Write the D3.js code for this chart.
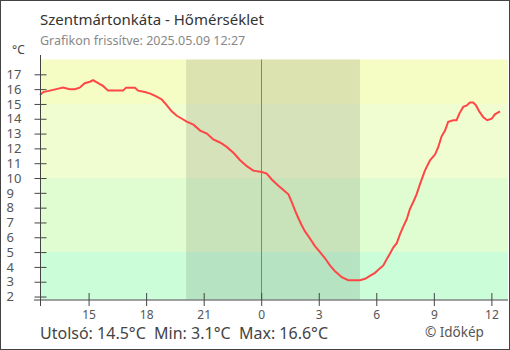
<!DOCTYPE html>
<html><head><meta charset="utf-8">
<script src="https://cdn.jsdelivr.net/npm/d3@7"></script>
<style>
html,body{margin:0;padding:0;background:#fff;}
svg{display:block;font-family:"Noto Sans",sans-serif;}
</style></head>
<body>
<script>
// ---- data ----
const times = ["05-08 12:28","05-08 12:38","05-08 12:59","05-08 13:19","05-08 13:40","05-08 14:01","05-08 14:17","05-08 14:32","05-08 14:48","05-08 15:04","05-08 15:14","05-08 15:30","05-08 15:46","05-08 16:01","05-08 16:22","05-08 16:48","05-08 16:57","05-08 17:25","05-08 17:35","05-08 17:56","05-08 18:13","05-08 18:33","05-08 18:49","05-08 19:05","05-08 19:20","05-08 19:36","05-08 19:52","05-08 20:07","05-08 20:28","05-08 20:49","05-08 21:10","05-08 21:30","05-08 21:51","05-08 22:12","05-08 22:33","05-08 22:54","05-08 23:15","05-08 23:35","05-09 00:02","05-09 00:17","05-09 00:33","05-09 00:53","05-09 01:14","05-09 01:25","05-09 01:35","05-09 01:46","05-09 01:56","05-09 02:07","05-09 02:17","05-09 02:33","05-09 02:48","05-09 03:04","05-09 03:19","05-09 03:35","05-09 03:51","05-09 04:12","05-09 04:32","05-09 05:09","05-09 05:25","05-09 05:40","05-09 05:56","05-09 06:11","05-09 06:22","05-09 06:32","05-09 06:43","05-09 06:53","05-09 07:04","05-09 07:14","05-09 07:24","05-09 07:35","05-09 07:45","05-09 07:56","05-09 08:06","05-09 08:17","05-09 08:32","05-09 08:48","05-09 09:04","05-09 09:14","05-09 09:24","05-09 09:35","05-09 09:45","05-09 10:01","05-09 10:11","05-09 10:21","05-09 10:32","05-09 10:43","05-09 10:53","05-09 11:03","05-09 11:12","05-09 11:22","05-09 11:35","05-09 11:47","05-09 12:01","05-09 12:11","05-09 12:27"];
const temps = [15.6,15.8,15.9,16.0,16.1,16.0,16.0,16.1,16.4,16.5,16.6,16.4,16.2,15.9,15.9,15.9,16.1,16.1,15.9,15.8,15.7,15.5,15.3,14.9,14.5,14.2,14.0,13.8,13.6,13.2,13.0,12.6,12.4,12.1,11.7,11.2,10.8,10.5,10.4,10.3,9.9,9.5,9.1,8.9,8.4,7.8,7.3,6.8,6.4,5.9,5.4,5.0,4.6,4.1,3.7,3.3,3.1,3.1,3.2,3.4,3.6,3.9,4.1,4.5,4.9,5.3,5.6,6.2,6.7,7.2,7.9,8.4,8.9,9.6,10.5,11.2,11.6,12.1,12.8,13.2,13.8,13.9,13.9,14.4,14.8,14.9,15.1,15.1,14.9,14.5,14.1,13.9,14.0,14.3,14.5];
const yTicks = [2,3,4,5,6,7,8,9,10,11,12,13,14,15,16,17];
const bandFrom = [1.8,5,10,15];
const bandTo = [5,10,15,18];
const bandColors = ["#cbfed8","#dffdd0","#effdd0","#f5fdc4"];
const nightStart = "05-08 20:05", nightEnd = "05-09 05:09";
const midnight = "05-09 00:00";
const domainStart = "05-08 12:28", domainEnd = "05-09 12:52";
const title = "Szentmártonkáta - Hőmérséklet";
const subtitle = "Grafikon frissítve: 2025.05.09 12:27";
const footer = "Utolsó: 14.5°C  Min: 3.1°C  Max: 16.6°C";
const credit = "© Időkép";

// ---- chart ----
const parse = s => d3.timeParse("%Y-%m-%d %H:%M")("2025-" + s);
const data = times.map((t,i)=>({t:parse(t), v:temps[i]}));
const W=510,H=350, L=40, R=508, T=59.5, B=299.5;
const svg = d3.select("body").append("svg").attr("width",W).attr("height",H);

const x = d3.scaleTime().domain([parse(domainStart),parse(domainEnd)]).range([L,R]);
const y = d3.scaleLinear().domain([1.8,18]).range([B,T]);

// bands
svg.append("g").selectAll("rect").data(bandFrom).join("rect")
  .attr("x",L).attr("width",R-L)
  .attr("y",(d,i)=>y(bandTo[i])).attr("height",(d,i)=>y(d)-y(bandTo[i]))
  .attr("fill",(d,i)=>bandColors[i]);
// night
svg.append("rect").attr("x",x(parse(nightStart))).attr("y",T)
  .attr("width",x(parse(nightEnd))-x(parse(nightStart))).attr("height",B-T)
  .attr("fill","#000").attr("fill-opacity",0.1);
// midnight
svg.append("line").attr("x1",Math.round(x(parse(midnight)))+0.5).attr("x2",Math.round(x(parse(midnight)))+0.5)
  .attr("y1",T).attr("y2",B).attr("stroke","#3b95d6").attr("stroke-width",1);

// line
svg.append("path").datum(data)
  .attr("d",d3.line().x(d=>x(d.t)).y(d=>y(d.v)))
  .attr("fill","none").attr("stroke","#ff4646").attr("stroke-width",2).attr("stroke-linejoin","miter");

// y axis
const ya = svg.append("g").attr("transform",`translate(${L+0.5},0)`)
  .call(d3.axisLeft(y).tickValues(yTicks).tickFormat(d3.format("d")));
ya.select(".domain").remove();
ya.selectAll(".tick line").attr("x1",-6).attr("x2",6).attr("stroke","#444");
ya.selectAll(".tick text").attr("x",-34).attr("text-anchor","start")
  .attr("font-size",13).attr("fill","#555").attr("font-family","Noto Sans");
svg.append("line").attr("x1",L+0.5).attr("x2",L+0.5).attr("y1",55).attr("y2",306).attr("stroke","#444");

// x axis
const xa = svg.append("g").attr("transform",`translate(0,${B+0.5})`)
  .call(d3.axisBottom(x).ticks(d3.timeHour.every(3)).tickFormat(d3.timeFormat("%-H")));
xa.select(".domain").remove();
xa.selectAll(".tick line").attr("y1",-7).attr("y2",6).attr("stroke","#444");
xa.selectAll(".tick text").attr("y",10).attr("font-size",12).attr("fill","#555").attr("font-family","Noto Sans");
svg.append("line").attr("x1",34).attr("x2",R).attr("y1",B+0.5).attr("y2",B+0.5).attr("stroke","#444");

// texts
svg.append("text").attr("x",40).attr("y",25).attr("font-size",15).attr("fill","#333").text(title);
svg.append("text").attr("x",40).attr("y",45).attr("font-size",12.5).attr("fill","#888").text(subtitle);
svg.append("text").attr("x",12).attr("y",54).attr("font-size",12).attr("fill","#444").text("°C");
svg.append("text").attr("x",40).attr("y",339).attr("font-size",16).attr("fill","#444").attr("xml:space","preserve").style("white-space","pre").text(footer);
svg.append("text").attr("x",425).attr("y",337).attr("font-size",13.5).attr("fill","#555").text(credit);

// frame
svg.append("rect").attr("x",0.5).attr("y",0.5).attr("width",W-1).attr("height",H-1)
  .attr("fill","none").attr("stroke","#444");
</script>
</body></html>
